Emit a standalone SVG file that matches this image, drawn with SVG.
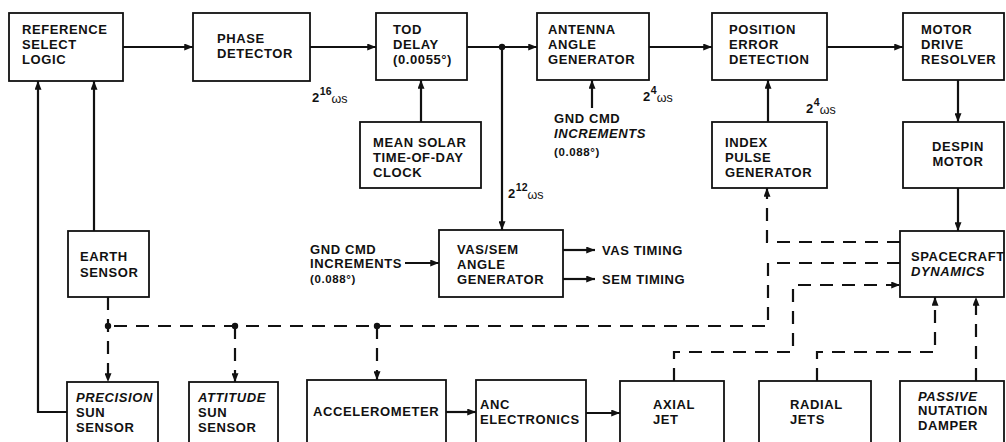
<svg xmlns="http://www.w3.org/2000/svg" width="1006" height="442" viewBox="0 0 1006 442">
<style>
.box{fill:#fff;stroke:#111;stroke-width:1.8}
.t{font-family:"Liberation Sans",Arial,sans-serif;font-weight:bold;font-size:13px;letter-spacing:0.6px;fill:#111}
.i{font-style:italic}
.s{font-size:11.5px}
.sup{font-size:10.5px;letter-spacing:0}
.w{font-size:12.5px;font-weight:normal;letter-spacing:0}
.ln{fill:none;stroke:#111;stroke-width:2.2}
.ds{fill:none;stroke:#111;stroke-width:2.2;stroke-dasharray:13 9}
.dot{fill:#111}
</style>
<defs>
<marker id="ah" viewBox="0 0 10 8" refX="10" refY="4" markerWidth="9" markerHeight="7" orient="auto" markerUnits="userSpaceOnUse"><path d="M0,0 L10,4 L0,8 z" fill="#111"/></marker>
</defs>
<rect width="1006" height="442" fill="#fff"/>

<g id="connectors">
<path class="ln" d="M123,47 H193" marker-end="url(#ah)"/>
<path class="ln" d="M310,47 H376" marker-end="url(#ah)"/>
<path class="ln" d="M467,47 H537" marker-end="url(#ah)"/>
<path class="ln" d="M502,47 V230" marker-end="url(#ah)"/>
<path class="ln" d="M649,47 H712" marker-end="url(#ah)"/>
<path class="ln" d="M827,47 H903" marker-end="url(#ah)"/>
<path class="ln" d="M958,80 V122" marker-end="url(#ah)"/>
<path class="ln" d="M958,188 V231" marker-end="url(#ah)"/>
<path class="ln" d="M421,122 V80" marker-end="url(#ah)"/>
<path class="ln" d="M592,108 V80" marker-end="url(#ah)"/>
<path class="ln" d="M768,122 V80" marker-end="url(#ah)"/>
<path class="ln" d="M94,231 V81" marker-end="url(#ah)"/>
<path class="ln" d="M67,412 H38 V81" marker-end="url(#ah)"/>
<path class="ln" d="M405,263 H439" marker-end="url(#ah)"/>
<path class="ln" d="M563,250 H595" marker-end="url(#ah)"/>
<path class="ln" d="M563,279 H595" marker-end="url(#ah)"/>
<path class="ln" d="M446,412 H476" marker-end="url(#ah)"/>
<path class="ln" d="M586,413 H620" marker-end="url(#ah)"/>

<path class="ds" d="M108,297 V382" marker-end="url(#ah)"/>
<path class="ds" d="M900,263 H768 V326 H108"/>
<path class="ds" d="M235,326 V382" marker-end="url(#ah)"/>
<path class="ds" d="M377,326 V380" marker-end="url(#ah)"/>
<path class="ds" d="M900,242 H767 V188" marker-end="url(#ah)"/>
<path class="ds" d="M674,381 V352 H793 V285 H900" marker-end="url(#ah)"/>
<path class="ds" d="M817,381 V352 H935 V297" marker-end="url(#ah)"/>
<path class="ds" d="M976,381 V297" marker-end="url(#ah)"/>

<circle class="dot" cx="502" cy="47" r="3.2"/>
<circle class="dot" cx="108" cy="326" r="3.2"/>
<circle class="dot" cx="235" cy="326" r="3.2"/>
<circle class="dot" cx="377" cy="326" r="3.2"/>

<text class="t" x="312" y="102">2<tspan class="sup" dy="-7">16</tspan><tspan class="w" dy="8">ωs</tspan></text>
<text class="t" x="643" y="101">2<tspan class="sup" dy="-7">4</tspan><tspan class="w" dy="8">ωs</tspan></text>
<text class="t" x="806" y="113">2<tspan class="sup" dy="-7">4</tspan><tspan class="w" dy="8">ωs</tspan></text>
<text class="t" x="508" y="198">2<tspan class="sup" dy="-7">12</tspan><tspan class="w" dy="8">ωs</tspan></text>

<text class="t" x="554" y="123">GND CMD</text>
<text class="t i" x="554" y="138">INCREMENTS</text>
<text class="t s" x="554" y="156">(0.088°)</text>

<text class="t" x="310" y="254">GND CMD</text>
<text class="t" x="310" y="268">INCREMENTS</text>
<text class="t s" x="310" y="283">(0.088°)</text>

<text class="t" x="602" y="255">VAS TIMING</text>
<text class="t" x="602" y="284">SEM TIMING</text>
</g>

<g id="ref"><rect class="box" x="9" y="13" width="114" height="68"/>
<text class="t" x="22" y="34">REFERENCE</text><text class="t" x="22" y="49">SELECT</text><text class="t" x="22" y="64">LOGIC</text></g>

<g id="phase"><rect class="box" x="193" y="13" width="117" height="68"/>
<text class="t" x="217" y="43">PHASE</text><text class="t" x="217" y="58">DETECTOR</text></g>

<g id="tod"><rect class="box" x="376" y="13" width="91" height="67"/>
<text class="t" x="393" y="34">TOD</text><text class="t" x="393" y="49">DELAY</text><text class="t" x="393" y="64">(0.0055°)</text></g>

<g id="antenna"><rect class="box" x="537" y="13" width="112" height="67"/>
<text class="t" x="548" y="34">ANTENNA</text><text class="t" x="548" y="49">ANGLE</text><text class="t" x="548" y="64">GENERATOR</text></g>

<g id="position"><rect class="box" x="712" y="13" width="115" height="67"/>
<text class="t" x="729" y="34">POSITION</text><text class="t" x="729" y="49">ERROR</text><text class="t" x="729" y="64">DETECTION</text></g>

<g id="motor"><rect class="box" x="903" y="13" width="101" height="67"/>
<text class="t" x="921" y="34">MOTOR</text><text class="t" x="921" y="49">DRIVE</text><text class="t" x="921" y="64">RESOLVER</text></g>

<g id="mean"><rect class="box" x="360" y="122" width="121" height="66"/>
<text class="t" x="373" y="147">MEAN SOLAR</text><text class="t" x="373" y="162">TIME-OF-DAY</text><text class="t" x="373" y="177">CLOCK</text></g>

<g id="index"><rect class="box" x="712" y="122" width="115" height="66"/>
<text class="t" x="725" y="147">INDEX</text><text class="t" x="725" y="162">PULSE</text><text class="t" x="725" y="177">GENERATOR</text></g>

<g id="despin"><rect class="box" x="903" y="122" width="101" height="66"/>
<text class="t" x="958" y="151" text-anchor="middle">DESPIN</text><text class="t" x="958" y="166" text-anchor="middle">MOTOR</text></g>

<g id="earth"><rect class="box" x="68" y="231" width="81" height="66"/>
<text class="t" x="80" y="261">EARTH</text><text class="t" x="80" y="277">SENSOR</text></g>

<g id="vas"><rect class="box" x="439" y="230" width="124" height="67"/>
<text class="t" x="457" y="254">VAS/SEM</text><text class="t" x="457" y="269">ANGLE</text><text class="t" x="457" y="284">GENERATOR</text></g>

<g id="spacecraft"><rect class="box" x="900" y="231" width="104" height="66"/>
<text class="t" x="911" y="261">SPACECRAFT</text><text class="t i" x="911" y="276">DYNAMICS</text></g>

<g id="precision"><rect class="box" x="67" y="382" width="91" height="62"/>
<text class="t i" x="76" y="402">PRECISION</text><text class="t" x="76" y="417">SUN</text><text class="t" x="76" y="432">SENSOR</text></g>

<g id="attitude"><rect class="box" x="189" y="382" width="89" height="62"/>
<text class="t i" x="198" y="402">ATTITUDE</text><text class="t" x="198" y="417">SUN</text><text class="t" x="198" y="432">SENSOR</text></g>

<g id="accel"><rect class="box" x="307" y="380" width="139" height="64"/>
<text class="t" x="313" y="416">ACCELEROMETER</text></g>

<g id="anc"><rect class="box" x="476" y="380" width="110" height="64"/>
<text class="t" x="480" y="409">ANC</text><text class="t" x="480" y="424">ELECTRONICS</text></g>

<g id="axial"><rect class="box" x="620" y="381" width="104" height="63"/>
<text class="t" x="653" y="409">AXIAL</text><text class="t" x="653" y="424">JET</text></g>

<g id="radial"><rect class="box" x="759" y="381" width="112" height="63"/>
<text class="t" x="790" y="409">RADIAL</text><text class="t" x="790" y="424">JETS</text></g>

<g id="passive"><rect class="box" x="900" y="381" width="104" height="63"/>
<text class="t i" x="918" y="401">PASSIVE</text><text class="t" x="918" y="415">NUTATION</text><text class="t" x="918" y="430">DAMPER</text></g>
</svg>
